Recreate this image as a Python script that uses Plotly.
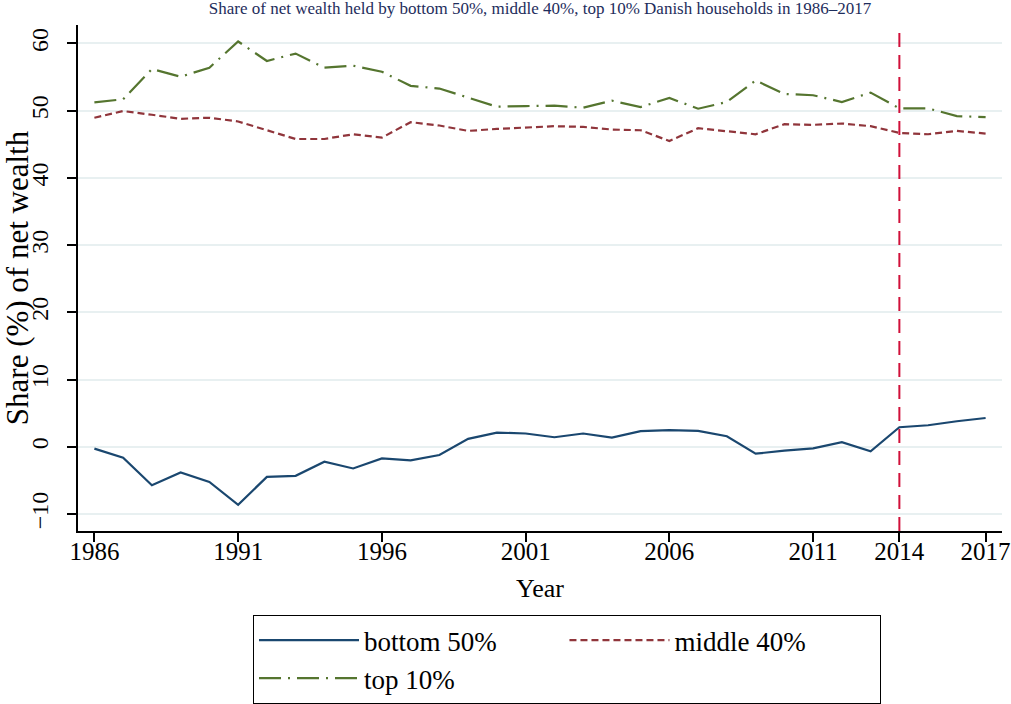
import plotly.graph_objects as go

years = list(range(1986, 2018))
bottom50 = [-0.25, -1.6, -5.7, -3.8, -5.2, -8.6, -4.45, -4.3, -2.2, -3.2, -1.7, -2.0, -1.2, 1.2, 2.14, 2.0,
            1.44, 2.0, 1.4, 2.34, 2.5, 2.4, 1.6, -1.0, -0.54, -0.2, 0.7, -0.64, 2.93, 3.23, 3.82, 4.3]
middle40 = [48.96, 49.95, 49.4, 48.8, 48.96, 48.4, 47.1, 45.8, 45.8, 46.5, 46.0, 48.3, 47.8, 47.0, 47.3, 47.5,
            47.7, 47.6, 47.2, 47.1, 45.5, 47.4, 47.0, 46.5, 48.0, 47.9, 48.1, 47.7, 46.7, 46.5, 47.0, 46.6]
top10 = [51.25, 51.7, 56.2, 55.06, 56.4, 60.3, 57.4, 58.5, 56.4, 56.7, 55.8, 53.7, 53.3, 51.9, 50.6, 50.7,
         50.75, 50.45, 51.5, 50.55, 51.9, 50.3, 51.3, 54.5, 52.5, 52.3, 51.3, 52.7, 50.35, 50.35, 49.2, 49.06]

x_ticks = [1986, 1991, 1996, 2001, 2006, 2011, 2014, 2017]
y_ticks = [-10, 0, 10, 20, 30, 40, 50, 60]
cutoff_year = 2014

title_text = "Share of net wealth held by bottom 50%, middle 40%, top 10% Danish households in 1986\u20132017"
font_family = "Liberation Serif"

fig = go.Figure()
fig.add_trace(go.Scatter(x=years, y=bottom50, mode="lines", name="bottom 50%",
                         line=dict(color="#1a476f", width=2.2)))
fig.add_trace(go.Scatter(x=years, y=middle40, mode="lines", name="middle 40%",
                         line=dict(color="#90353b", width=2.2, dash="7px,4px")))
fig.add_trace(go.Scatter(x=years, y=top10, mode="lines", name="top 10%",
                         line=dict(color="#55752f", width=2.2, dash="22px,7px,2px,7px")))

fig.add_shape(type="line", xref="x", yref="paper", x0=cutoff_year, x1=cutoff_year, y0=0, y1=0.985,
              line=dict(color="#d0103a", width=2, dash="14px,8px"))

fig.update_layout(
    width=1011, height=704,
    paper_bgcolor="white", plot_bgcolor="white",
    margin=dict(l=78, r=9, t=25, b=173, autoexpand=False),
    font=dict(family=font_family, color="black", size=25),
    title=dict(text=title_text, x=0.5, xanchor="center", xref="paper",
               y=0.997, yanchor="top", yref="container",
               font=dict(family=font_family, size=17, color="#1e2d5c")),
    showlegend=True,
    legend=dict(orientation="h", x=(253 - 78) / 924, xanchor="left", y=-0.166, yanchor="top",
                entrywidthmode="fraction", entrywidth=0.336, itemwidth=100,
                bordercolor="black", borderwidth=1, bgcolor="white",
                font=dict(family=font_family, size=27, color="black"),
                tracegroupgap=0),
)
fig.update_xaxes(range=[1985.43, 2017.57], tickvals=x_ticks, ticktext=[str(v) for v in x_ticks],
                 automargin=False, ticklabelstandoff=-12,
                 showline=True, linecolor="black", linewidth=1.5, ticks="outside", ticklen=9,
                 tickcolor="black", tickwidth=1.5, showgrid=False, zeroline=False,
                 title=dict(text="Year", standoff=15, font=dict(size=26)),
                 tickfont=dict(size=25))
fig.update_yaxes(range=[-12.5, 62.75], tickvals=y_ticks,
                 ticktext=["\u221210" if v < 0 else str(v) for v in y_ticks],
                 tickangle=-90, automargin=False, ticklabelstandoff=10,
                 showline=True, linecolor="black", linewidth=1.5, ticks="outside", ticklen=9,
                 tickcolor="black", tickwidth=1.5, showgrid=True, gridcolor="#e8f0f1", gridwidth=1.5,
                 zeroline=False,
                 title=dict(text="Share (%) of net wealth", standoff=0, font=dict(size=31)),
                 tickfont=dict(size=24))

fig.write_html("out.html", config={"displayModeBar": False},
               post_script="document.body.style.margin='0px';")
